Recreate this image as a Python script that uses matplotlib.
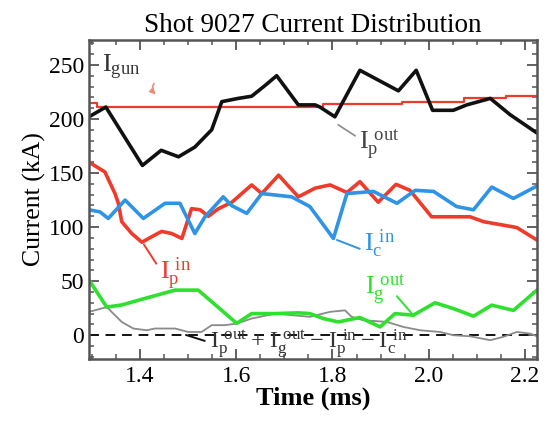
import matplotlib
matplotlib.use("Agg")
import matplotlib.pyplot as plt

# --- data (time in ms, current in kA) ---
t_ipout = [1.294, 1.329, 1.405, 1.444, 1.480, 1.514, 1.549, 1.570, 1.604, 1.632, 1.660, 1.684,
           1.729, 1.764, 1.774, 1.805, 1.857, 1.937, 1.974, 2.008, 2.051, 2.079, 2.128, 2.169, 2.225]
i_ipout = [202, 211, 157, 171, 165, 174, 190, 216, 219, 221, 231, 240,
           213, 213, 211, 202, 245, 226, 245, 208, 208, 213, 219, 204, 187]

t_igun = [1.294, 1.31, 1.78, 1.945, 2.073, 2.16, 2.225]
i_igun = [214.5, 211.5, 213.5, 216, 219, 221.5, 221.5]

t_ipin = [1.294, 1.327, 1.348, 1.355, 1.362, 1.383, 1.404, 1.424, 1.445, 1.466, 1.487, 1.507,
          1.525, 1.542, 1.563, 1.591, 1.632, 1.653, 1.688, 1.729, 1.764, 1.795, 1.830, 1.857,
          1.895, 1.932, 1.961, 2.006, 2.086, 2.114, 2.183, 2.225]
i_ipin = [160, 151, 131, 122, 105, 94, 86, 91, 96, 94, 89.5, 117,
          116, 110, 117, 123, 139, 131, 148, 128, 136, 139, 132, 142,
          123, 139.5, 134, 109.5, 109.5, 105, 99.6, 88]

t_icin = [1.294, 1.317, 1.334, 1.369, 1.407, 1.452, 1.483, 1.514, 1.535, 1.573, 1.590, 1.622,
          1.653, 1.715, 1.753, 1.802, 1.830, 1.885, 1.934, 1.972, 2.010, 2.058, 2.093, 2.131,
          2.176, 2.225]
i_icin = [116, 114, 108, 125, 108, 122, 122, 94, 109.5, 128, 120, 112.7,
          131, 128, 119, 89.5, 131, 133, 122, 134, 133, 119, 116, 137,
          126.5, 138]

t_igout = [1.294, 1.331, 1.362, 1.410, 1.473, 1.521, 1.601, 1.632, 1.681, 1.729, 1.753, 1.781,
           1.812, 1.857, 1.899, 1.930, 1.968, 2.013, 2.051, 2.093, 2.131, 2.176, 2.225]
i_igout = [51, 26, 28, 34, 41.7, 41.7, 11, 20, 20, 20.7, 20, 15.4,
           12.3, 16.4, 7.7, 20, 18.5, 30, 24.7, 17.6, 27.8, 23, 41.7]

t_sum = [1.294, 1.331, 1.362, 1.386, 1.414, 1.431, 1.473, 1.500, 1.528, 1.549, 1.577, 1.601,
         1.632, 1.681, 1.753, 1.795, 1.826, 1.840, 1.864, 1.913, 1.947, 1.982, 2.024, 2.051,
         2.086, 2.128, 2.155, 2.183, 2.211, 2.225]
i_sum = [21.6, 26, 12.3, 6.2, 4.6, 6.2, 6.2, 3, 3, 9.3, 9.3, 10.8,
         15.4, 20, 17, 21.6, 23, 17, 13.9, 12.3, 7.7, 4.6, 3, 0,
         -1, -4.6, -1.5, 3, 1.5, -1]

xticks = [1.4, 1.6, 1.8, 2.0, 2.2]
xticklabels = ["1.4", "1.6", "1.8", "2.0", "2.2"]
yticks = [0, 50, 100, 150, 200, 250]

plt.rcParams['font.family'] = ['Liberation Serif', 'DejaVu Serif']
plt.rcParams['mathtext.fontset'] = 'custom'
plt.rcParams['mathtext.rm'] = 'Liberation Serif'

black = "#111111"
red = "#ee3b2b"
blue = "#2f93e6"
green = "#2fe02f"
gray = "#8a8a8a"
frame = "#555555"

fig = plt.figure(figsize=(5.48, 4.28), dpi=100)
ax = fig.add_axes([0.1624, 0.1612, 0.8175, 0.7453])

ax.axhline(0, color=black, lw=1.4, ls=(0, (5, 3.5)))
ax.plot(t_sum, i_sum, color=gray, lw=1.3)
ax.step(t_igun, i_igun, where='post', color=red, lw=1.6)
ax.plot(t_igout, i_igout, color=green, lw=2.6)
ax.plot(t_ipin, i_ipin, color=red, lw=2.6)
ax.plot(t_icin, i_icin, color=blue, lw=2.6)
ax.plot(t_ipout, i_ipout, color=black, lw=2.6)

# line labels with small leader lines
lab = dict(fontsize=19, va='center', ha='left')
ax.text(1.32, 248, r'$\mathrm{I_{gun}}$', color="#333333", **lab)
ax.annotate('', xy=(1.437, 221), xytext=(1.432, 235),
            arrowprops=dict(arrowstyle='-|>', color="#f08a70", lw=1.2,
                            connectionstyle="arc3,rad=0.5", mutation_scale=8))
ax.text(1.855, 176, r'$\mathrm{I_p^{\ out}}$', color="#444444", **lab)
ax.annotate('', xy=(1.807, 196), xytext=(1.852, 183),
            arrowprops=dict(arrowstyle='-', color=gray, lw=1.2))
ax.text(1.866, 85, r'$\mathrm{I_c^{\ in}}$', color=blue, **lab)
ax.annotate('', xy=(1.804, 89), xytext=(1.862, 79),
            arrowprops=dict(arrowstyle='-', color=blue, lw=1.4))
ax.text(1.442, 57, r'$\mathrm{I_p^{\ in}}$', color=red, **lab)
ax.annotate('', xy=(1.405, 86), xytext=(1.437, 64),
            arrowprops=dict(arrowstyle='-', color=red, lw=1.4))
ax.text(1.868, 42, r'$\mathrm{I_g^{\ out}}$', color=green, **lab)
ax.annotate('', xy=(1.968, 18.5), xytext=(1.93, 38),
            arrowprops=dict(arrowstyle='-', color=green, lw=1.4))
ax.text(1.545, -8.5, r'$\mathrm{I_p^{\ out} + I_g^{\ out} - I_p^{\ in} - I_c^{\ in}}$',
        color="#333333", fontsize=17.5, va='center', ha='left')
ax.annotate('', xy=(1.49, 1), xytext=(1.54, -6),
            arrowprops=dict(arrowstyle='-', color=black, lw=1.4))

ax.set_xlim(1.294, 2.225)
ax.set_ylim(-22, 273)
ax.set_xticks(xticks)
ax.set_xticklabels(xticklabels)
ax.set_yticks(yticks)
ax.set_xticks([1.3 + 0.05 * k for k in range(19)], minor=True)
ax.set_yticks(list(range(-20, 271, 10)), minor=True)
ax.tick_params(which='both', direction='in', top=True, right=True, color=frame, labelsize=17)
ax.tick_params(which='major', length=7, width=1.3)
ax.tick_params(which='minor', length=3.5, width=1.1)
ax.tick_params(axis='x', pad=5)
for s in ax.spines.values():
    s.set_color(frame)
    s.set_linewidth(1.8)

ax.set_title('Shot 9027 Current Distribution', fontsize=19.5, pad=6)
ax.set_xlabel('Time (ms)', fontsize=19, fontweight='bold', labelpad=0)
ax.set_ylabel('Current (kA)', fontsize=18.5, labelpad=2)

fig.savefig("out.png", dpi=100)
